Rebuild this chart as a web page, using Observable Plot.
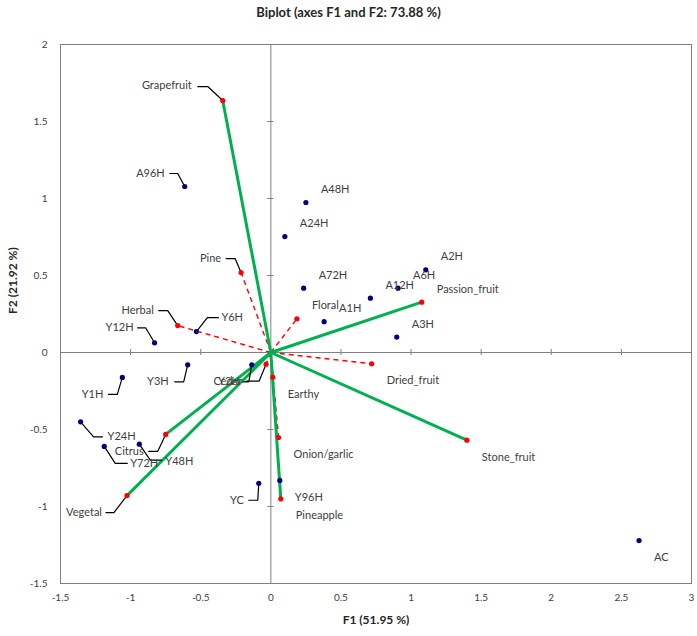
<!DOCTYPE html>
<html>
<head>
<meta charset="utf-8">
<script src="https://cdn.jsdelivr.net/npm/d3@7"></script>
<script src="https://cdn.jsdelivr.net/npm/@observablehq/plot@0.6"></script>
<style>
  body { margin: 0; background: #fff; }
  #title { width: 697px; height: 24px; box-sizing: border-box; padding-top: 4px; line-height: 20px; text-align: center; font: bold 13px Lato, sans-serif; color: #262626; }
</style>
</head>
<body>
<div id="title"></div>
<div id="chart"></div>
<script>
// ---------------- data ----------------
const chartTitle = "Biplot (axes F1 and F2: 73.88 %)";
const xTitle = "F1 (51.95 %)";
const yTitle = "F2 (21.92 %)";

// observations (blue)
const obsNames = ["A96H","A48H","A24H","A72H","A1H","A12H","A6H","A2H","A3H","AC",
                  "Y6H","Y12H","Y1H","Y3H","Y2H","Y24H","Y72H","Y48H","YC","Y96H"];
const obsF1 = [-0.614, 0.250, 0.100, 0.234, 0.380, 0.710, 0.907, 1.105, 0.898, 2.626,
               -0.531, -0.829, -1.059, -0.593, -0.136, -1.357, -1.188, -0.938, -0.086, 0.064];
const obsF2 = [1.078, 0.974, 0.753, 0.418, 0.200, 0.353, 0.418, 0.537, 0.100, -1.221,
               0.136, 0.063, -0.162, -0.080, -0.080, -0.450, -0.610, -0.595, -0.849, -0.831];

// variables (red)
const varNames = ["Grapefruit","Pine","Herbal","Floral","Passion_fruit","Dried_fruit","Stone_fruit",
                  "Cedar","Earthy","Onion/garlic","Pineapple","Citrus","Vegetal"];
const varF1 = [-0.343, -0.212, -0.664, 0.186, 1.076, 0.719, 1.398, -0.034, 0.014, 0.055, 0.071, -0.750, -1.026];
const varF2 = [1.636, 0.519, 0.175, 0.219, 0.327, -0.073, -0.569, -0.076, -0.160, -0.552, -0.950, -0.532, -0.929];
const keyVars = ["Grapefruit","Passion_fruit","Stone_fruit","Pineapple","Citrus","Vegetal"];

const xTicks = [-1.5, -1, -0.5, 0, 0.5, 1, 1.5, 2, 2.5, 3];
const yTicks = [-1.5, -1, -0.5, 0, 0.5, 1, 1.5, 2];

// ---------------- layout ----------------
const W = 697, H = 612, mL = 60, mR = 6, mT = 20, mB = 53;
const sx = (W - mL - mR) / 4.5, sy = (H - mT - mB) / 3.5;
const px = d => d / sx, py = d => -d / sy;

// label placement (pixel offsets): t = text anchor, e = elbow, s = leader end
const leaderLayout = {
  "Grapefruit": {t: [-31, -15], e: [-15, -14], s: [-25, -14]},
  "A96H": {t: [-20, -13], e: [-7, -13], s: [-15, -13]},
  "Pine": {t: [-20, -14], e: [-6, -14], s: [-15, -14]},
  "Herbal": {t: [-24, -15], e: [-10, -15], s: [-19, -15]},
  "Y12H": {t: [-21, -15], e: [-9, -15], s: [-17, -15]},
  "Y6H": {t: [25, -14], e: [11, -14], s: [22, -14]},
  "Y1H": {t: [-19, 17], e: [-5, 17], s: [-14, 17]},
  "Y3H": {t: [-19, 17], e: [-4, 17], s: [-13, 17]},
  "Y2H": {t: [-12, 17], e: [-3, 17], s: [-9, 17]},
  "Cedar": {t: [-24, 17], e: [-7, 17], s: [-20, 17]},
  "YC": {t: [-15, 17], e: [-1, 17], s: [-10, 17]},
  "Vegetal": {t: [-25, 17], e: [-13, 17], s: [-21, 17]},
  "Citrus": {t: [-22, 17], e: [-8, 17], s: [-17, 17]},
  "Y24H": {t: [27, 15], e: [13, 15], s: [22, 15]},
  "Y72H": {t: [26, 17], e: [11, 17], s: [23, 17]},
  "Y48H": {t: [26, 17], e: [11, 16], s: [22, 16]}
};
const belowRight = new Set(["Dried_fruit","Stone_fruit","AC","Earthy","Onion/garlic","Pineapple","Y96H"]);

const obs = obsNames.map((n, i) => ({name: n, x: obsF1[i], y: obsF2[i]}));
const vars = varNames.map((n, i) => ({name: n, x: varF1[i], y: varF2[i], key: keyVars.includes(n)}));
const all = [...vars, ...obs];

const labels = all.map(d => {
  const L = leaderLayout[d.name];
  const t = L ? L.t : (belowRight.has(d.name) ? [15, 17] : [15, -13]);
  return {name: d.name, x: d.x + px(t[0]), y: d.y + py(t[1]), anchor: t[0] < 0 ? "end" : "start"};
});
const leaders = [];
all.forEach(d => {
  const L = leaderLayout[d.name];
  if (!L) return;
  leaders.push({name: d.name, x: d.x, y: d.y});
  leaders.push({name: d.name, x: d.x + px(L.e[0]), y: d.y + py(L.e[1])});
  leaders.push({name: d.name, x: d.x + px(L.s[0]), y: d.y + py(L.s[1])});
});

document.getElementById("title").textContent = chartTitle;

const tickHalf = 3;
const chart = Plot.plot({
  width: W, height: H,
  marginLeft: mL, marginRight: mR, marginTop: mT, marginBottom: mB,
  x: {domain: [-1.5, 3]},
  y: {domain: [-1.5, 2]},
  style: {fontFamily: "Lato, sans-serif", color: "#404040", background: "#fff"},
  marks: [
    Plot.ruleX([0], {stroke: "#808080", strokeWidth: 1}),
    Plot.ruleY([0], {stroke: "#808080", strokeWidth: 1}),
    Plot.ruleX(xTicks.filter(v => v !== 0 && v > -1.5 && v < 3), {x: d => d, y1: py(tickHalf), y2: py(-tickHalf), stroke: "#808080"}),
    Plot.ruleY(yTicks.filter(v => v !== 0 && v > -1.5 && v < 2), {y: d => d, x1: px(-tickHalf), x2: px(tickHalf), stroke: "#808080"}),
    Plot.frame({stroke: "#808080", strokeWidth: 1}),
    Plot.axisX({ticks: xTicks, tickSize: 0, tickPadding: 10, tickFormat: d => String(d), fontSize: 10, label: null}),
    Plot.axisY({ticks: yTicks, tickSize: 0, tickPadding: 13, tickFormat: d => String(d), fontSize: 10, label: null}),
    Plot.text([xTitle], {frameAnchor: "bottom", dy: 37, text: d => d, fontWeight: "bold", fontSize: 12, fill: "#262626", lineAnchor: "middle"}),
    Plot.text([yTitle], {frameAnchor: "left", dx: -47, rotate: -90, text: d => d, fontWeight: "bold", fontSize: 12, fill: "#262626", lineAnchor: "middle"}),
    Plot.link(vars.filter(d => !d.key), {x1: 0, y1: 0, x2: "x", y2: "y", stroke: "#FF0000", strokeWidth: 1.4, strokeDasharray: "5,4"}),
    Plot.link(vars.filter(d => d.key), {x1: 0, y1: 0, x2: "x", y2: "y", stroke: "#00B050", strokeWidth: 3}),
    Plot.line(leaders, {x: "x", y: "y", z: "name", stroke: "#000", strokeWidth: 1.2}),
    Plot.dot(vars, {x: "x", y: "y", r: 2.6, fill: "#FF0000", stroke: "none"}),
    Plot.dot(obs, {x: "x", y: "y", r: 2.6, fill: "#00007F", stroke: "none"}),
    Plot.text(labels.filter(d => d.anchor === "start"), {x: "x", y: "y", text: "name", textAnchor: "start", fontSize: 11, fill: "#404040", lineAnchor: "middle"}),
    Plot.text(labels.filter(d => d.anchor === "end"), {x: "x", y: "y", text: "name", textAnchor: "end", fontSize: 11, fill: "#404040", lineAnchor: "middle"})
  ]
});
document.getElementById("chart").appendChild(chart);
</script>
</body>
</html>
